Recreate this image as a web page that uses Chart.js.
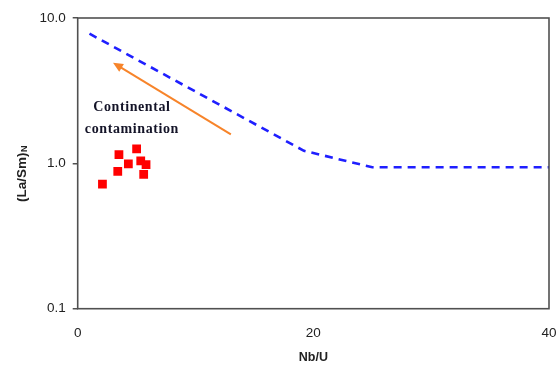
<!DOCTYPE html>
<html>
<head>
<meta charset="utf-8">
<script src="https://cdn.jsdelivr.net/npm/chart.js@4/dist/chart.umd.min.js"></script>
<style>
  html, body { margin: 0; padding: 0; background: #fff; }
  #wrap { width: 558px; height: 367px; }
</style>
</head>
<body>
<div id="wrap"><canvas id="c" width="558" height="367"></canvas></div>
<script>
// Sample data: Nb/U against chondrite-normalised La/Sm
const sampleNbU  = [2.1, 3.4, 3.5, 4.3, 5.0, 5.35, 5.8, 5.6];
const sampleLaSm = [0.72, 0.88, 1.15, 0.99, 1.26, 1.04, 0.98, 0.84];

// Reference trend (dashed)
const trendNbU  = [1, 19.2, 25, 40];
const trendLaSm = [7.8, 1.22, 0.94, 0.94];

// Contamination vector: tail -> head
const arrowNbU  = [13, 3.0];
const arrowLaSm = [1.58, 4.93];

// Axis ticks
const xTicks = [0, 20, 40];
const yTicks = [0.1, 1, 10];

const annotationLines = ['Continental', 'contamination'];

const toXY = (xs, ys) => xs.map((x, i) => ({ x: x, y: ys[i] }));

const overlay = {
  id: 'overlay',
  afterDraw(chart) {
    const ctx = chart.ctx;
    const a = chart.chartArea;
    const xs = chart.scales.x, ys = chart.scales.y;

    // frame around the plot
    ctx.save();
    ctx.strokeStyle = '#505050';
    ctx.lineWidth = 1.6;
    ctx.strokeRect(a.left, a.top, a.right - a.left, a.bottom - a.top);
    ctx.restore();

    // arrow
    const x0 = xs.getPixelForValue(arrowNbU[0]), y0 = ys.getPixelForValue(arrowLaSm[0]);
    const x1 = xs.getPixelForValue(arrowNbU[1]), y1 = ys.getPixelForValue(arrowLaSm[1]);
    const ang = Math.atan2(y1 - y0, x1 - x0);
    const hl = 10, hw = 4.5;
    ctx.save();
    ctx.strokeStyle = '#F7842A';
    ctx.fillStyle = '#F7842A';
    ctx.lineWidth = 2;
    ctx.beginPath();
    ctx.moveTo(x0, y0);
    ctx.lineTo(x1 - Math.cos(ang) * hl * 0.8, y1 - Math.sin(ang) * hl * 0.8);
    ctx.stroke();
    ctx.beginPath();
    ctx.moveTo(x1, y1);
    ctx.lineTo(x1 - Math.cos(ang) * hl - Math.sin(ang) * hw, y1 - Math.sin(ang) * hl + Math.cos(ang) * hw);
    ctx.lineTo(x1 - Math.cos(ang) * hl + Math.sin(ang) * hw, y1 - Math.sin(ang) * hl - Math.cos(ang) * hw);
    ctx.closePath();
    ctx.fill();
    ctx.restore();

    // annotation text
    ctx.save();
    ctx.fillStyle = '#141428';
    ctx.font = 'bold 14px "Liberation Serif", "Times New Roman", serif';
    ctx.textAlign = 'center';
    ctx.textBaseline = 'middle';
    if ('letterSpacing' in ctx) ctx.letterSpacing = '0.6px';
    const tx = xs.getPixelForValue(4.6);
    ctx.fillText(annotationLines[0], tx, ys.getPixelForValue(2.41));
    ctx.fillText(annotationLines[1], tx, ys.getPixelForValue(1.71));
    ctx.restore();

    // axis titles
    ctx.save();
    ctx.fillStyle = '#222';
    ctx.font = 'bold 12.5px "Liberation Sans", Arial, sans-serif';
    ctx.textAlign = 'center';
    ctx.textBaseline = 'middle';
    ctx.fillText('Nb/U', (a.left + a.right) / 2, 357.5);

    ctx.translate(22, 174);
    ctx.rotate(-Math.PI / 2);
    const main = '(La/Sm)';
    ctx.font = 'bold 13.5px "Liberation Sans", Arial, sans-serif';
    const wMain = ctx.measureText(main).width;
    ctx.font = 'bold 9px "Liberation Sans", Arial, sans-serif';
    const wSub = ctx.measureText('N').width;
    const start = -(wMain + wSub) / 2;
    ctx.textAlign = 'left';
    ctx.font = 'bold 13.5px "Liberation Sans", Arial, sans-serif';
    ctx.fillText(main, start, 0);
    ctx.font = 'bold 9px "Liberation Sans", Arial, sans-serif';
    ctx.fillText('N', start + wMain + 0.5, 3);
    ctx.restore();
  }
};

new Chart(document.getElementById('c'), {
  type: 'scatter',
  data: {
    datasets: [
      {
        type: 'line',
        data: toXY(trendNbU, trendLaSm),
        borderColor: '#1f1fff',
        borderWidth: 2.6,
        borderDash: [8, 6],
        pointRadius: 0,
        fill: false,
        tension: 0
      },
      {
        data: toXY(sampleNbU, sampleLaSm),
        pointStyle: 'rect',
        pointRadius: 6.2,
        pointHoverRadius: 6.2,
        backgroundColor: '#ff0000',
        borderColor: '#ff0000',
        borderWidth: 0
      }
    ]
  },
  options: {
    responsive: false,
    animation: false,
    events: [],
    layout: { padding: { left: 0, right: 9, top: 18, bottom: 0 } },
    plugins: { legend: { display: false }, tooltip: { enabled: false } },
    scales: {
      x: {
        type: 'linear',
        min: 0, max: 40,
        afterBuildTicks: s => { s.ticks = xTicks.map(v => ({ value: v })); },
        afterFit: s => { s.height = 58.3; s.paddingLeft = 0; s.paddingRight = 0; },
        grid: { drawOnChartArea: false, drawTicks: false },
        border: { display: false },
        ticks: {
          padding: 16,
          color: '#222',
          font: { family: '"Liberation Sans", Arial, sans-serif', size: 13.5 },
          maxRotation: 0
        }
      },
      y: {
        type: 'logarithmic',
        min: 0.1, max: 10,
        afterBuildTicks: s => { s.ticks = yTicks.map(v => ({ value: v })); },
        afterFit: s => { s.width = 77.7; s.paddingTop = 0; s.paddingBottom = 0; },
        grid: { drawOnChartArea: false, drawTicks: true, tickLength: 5, color: '#505050', lineWidth: 1.5 },
        border: { display: false },
        ticks: {
          padding: 7,
          color: '#222',
          font: { family: '"Liberation Sans", Arial, sans-serif', size: 13.5 },
          callback: v => Number(v).toFixed(1)
        }
      }
    }
  },
  plugins: [overlay]
});
</script>
</body>
</html>
